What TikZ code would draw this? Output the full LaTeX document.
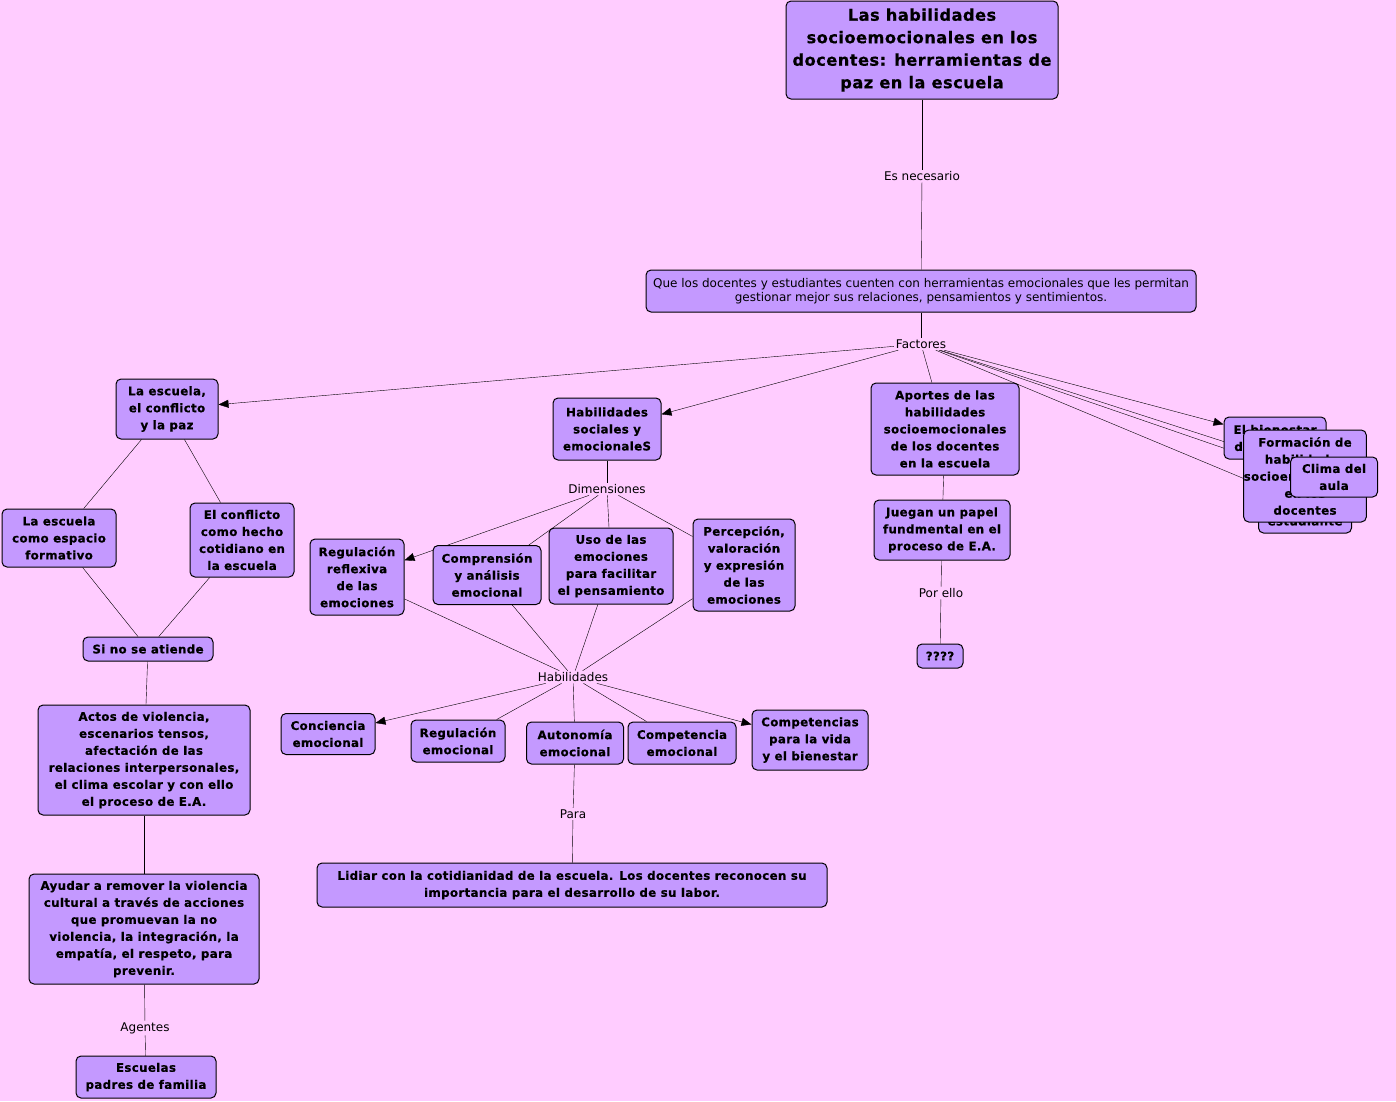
\documentclass[tikz,border=0pt]{standalone}
\usepackage{fontspec}
\setmainfont{DejaVu Sans}
\newfontfamily\heavyfont{DejaVu Sans Bold}[LetterSpace=3, FakeBold=0.6]
\usepackage{xcolor}
\usepackage{tikz}
\usetikzlibrary{arrows.meta}
\definecolor{mapBack}{RGB}{255,204,255}
\definecolor{mapNode}{RGB}{196,153,255}
\pgfdeclarelayer{paper}
\pgfdeclarelayer{links}
\pgfsetlayers{paper,links,main}

\tikzset{
    concept/.style={draw=black, line width=1pt, fill=mapNode, rounded corners=5pt, align=center, inner sep=2pt,
        font=\heavyfont\fontsize{11.8}{17}\selectfont},
    linkword/.style={fill=mapBack, inner sep=1.5pt, font=\fontsize{12}{14}\selectfont},
    toarrow/.style={-{Triangle[length=10pt,width=8pt]}},
}

\begin{document}
\begin{tikzpicture}[x=1pt, y=-1pt, line width=1pt]
    % draw paper
    \begin{pgfonlayer}{paper}
        \fill[mapBack] (0,0) rectangle (1396,1101);
    \end{pgfonlayer}
    \useasboundingbox (0,0) rectangle (1396,1101);

    % draw main nodes
    \node[concept, minimum width=272pt, minimum height=98pt, font=\heavyfont\fontsize{16.2}{22.5}\selectfont] (titulo) at (922,50)
        {Las habilidades\\socioemocionales en los\\docentes: herramientas de\\paz en la escuela};
    \node[concept, minimum width=550pt, minimum height=42pt, font=\fontsize{12}{14}\selectfont] (que) at (921,291)
        {Que los docentes y estudiantes cuenten con herramientas emocionales que les permitan\\gestionar mejor sus relaciones, pensamientos y sentimientos.};

    % draw link words
    \node[linkword] (necesario) at (922,176) {Es necesario};
    \node[linkword] (factores) at (921,344) {Factores};
    \node[linkword] (dimensiones) at (607,489) {Dimensiones};
    \node[linkword] (habilidades) at (573,677) {Habilidades};
    \node[linkword] (porello) at (941,593) {Por ello};
    \node[linkword] (para) at (573,814) {Para};
    \node[linkword] (agentes) at (145,1028) {Agentes};

    % draw factor nodes
    \node[concept, minimum width=102pt, minimum height=60pt] (escuela) at (167,409) {La escuela,\\el conflicto\\y la paz};
    \node[concept, minimum width=108pt, minimum height=62pt] (habsoc) at (607,429) {Habilidades\\sociales y\\emocionaleS};
    \node[concept, minimum width=148pt, minimum height=92pt] (aportes) at (945,429)
        {Aportes de las\\habilidades\\socioemocionales\\de los docentes\\en la escuela};
    \node[concept, minimum width=102pt, minimum height=42pt] (bienestar) at (1275,438) {El bienestar\\del docente};
    \node[concept, minimum width=93pt, minimum height=58pt] (estudiante) at (1305,504) {El bienestar\\del\\estudiante};
    \node[concept, minimum width=120pt, minimum height=92pt, inner xsep=0pt] (formacion) at (1305,476)
        {Formación de\\habilidades\\socioemocionales\\en los\\docentes};
    \node[concept, minimum width=87pt, minimum height=40pt] (clima) at (1334,477) {Clima del\\aula};

    % draw aportes branch
    \node[concept, minimum width=136pt, minimum height=60pt] (juegan) at (942,530) {Juegan un papel\\fundmental en el\\proceso de E.A.};
    \node[concept, minimum width=46pt, minimum height=24pt] (incognita) at (940,656) {????};

    % draw escuela branch
    \node[concept, minimum width=114pt, minimum height=58pt] (espacio) at (59,538) {La escuela\\como espacio\\formativo};
    \node[concept, minimum width=104pt, minimum height=74pt] (conflicto) at (242,540) {El conflicto\\como hecho\\cotidiano en\\la escuela};
    \node[concept, minimum width=130pt, minimum height=24pt] (sino) at (148,649) {Si no se atiende};
    \node[concept, minimum width=212pt, minimum height=110pt] (actos) at (144,760)
        {Actos de violencia,\\escenarios tensos,\\afectación de las\\relaciones interpersonales,\\el clima escolar y con ello\\el proceso de E.A.};
    \node[concept, minimum width=230pt, minimum height=110pt] (ayudar) at (144,929)
        {Ayudar a remover la violencia\\cultural a través de acciones\\que promuevan la no\\violencia, la integración, la\\empatía, el respeto, para\\prevenir.};
    \node[concept, minimum width=140pt, minimum height=42pt] (escuelas) at (146,1077) {Escuelas\\padres de familia};

    % draw dimensiones
    \node[concept, minimum width=94pt, minimum height=76pt] (regreflex) at (357,577) {Regulación\\reflexiva\\de las\\emociones};
    \node[concept, minimum width=108pt, minimum height=59pt] (comprension) at (487,575) {Comprensión\\y análisis\\emocional};
    \node[concept, minimum width=124pt, minimum height=76pt] (uso) at (611,566) {Uso de las\\emociones\\para facilitar\\el pensamiento};
    \node[concept, minimum width=102pt, minimum height=92pt] (percepcion) at (744,565) {Percepción,\\valoración\\y expresión\\de las\\emociones};

    % draw habilidades
    \node[concept, minimum width=94pt, minimum height=41pt] (conciencia) at (328,734) {Conciencia\\emocional};
    \node[concept, minimum width=94pt, minimum height=42pt] (regemo) at (458,741) {Regulación\\emocional};
    \node[concept, minimum width=97pt, minimum height=42pt] (autonomia) at (575,743) {Autonomía\\emocional};
    \node[concept, minimum width=108pt, minimum height=42pt] (competencia) at (682,743) {Competencia\\emocional};
    \node[concept, minimum width=116pt, minimum height=60pt] (vida) at (810,740) {Competencias\\para la vida\\y el bienestar};
    \node[concept, minimum width=510pt, minimum height=44pt] (lidiar) at (572,885)
        {Lidiar con la cotidianidad de la escuela. Los docentes reconocen su\\importancia para el desarrollo de su labor.};

    % draw connectors
    \begin{pgfonlayer}{links}
        \foreach \from/\to in {titulo/necesario, necesario/que, que/factores, factores/aportes,
                factores/formacion, factores/clima, factores/estudiante,
                aportes/juegan, juegan/porello, porello/incognita,
                habsoc/dimensiones, dimensiones/comprension, dimensiones/uso, dimensiones/percepcion,
                regreflex/habilidades, comprension/habilidades, uso/habilidades, percepcion/habilidades,
                habilidades/regemo, habilidades/autonomia, habilidades/competencia,
                autonomia/para, para/lidiar,
                escuela/espacio, escuela/conflicto, espacio/sino, conflicto/sino,
                sino/actos, actos/ayudar, ayudar/agentes, agentes/escuelas}
            \draw (\from) -- (\to);
        \foreach \from/\to in {factores/escuela, factores/habsoc, factores/bienestar,
                dimensiones/regreflex, habilidades/conciencia, habilidades/vida}
            \draw[toarrow] (\from) -- (\to);
    \end{pgfonlayer}
\end{tikzpicture}
\end{document}
